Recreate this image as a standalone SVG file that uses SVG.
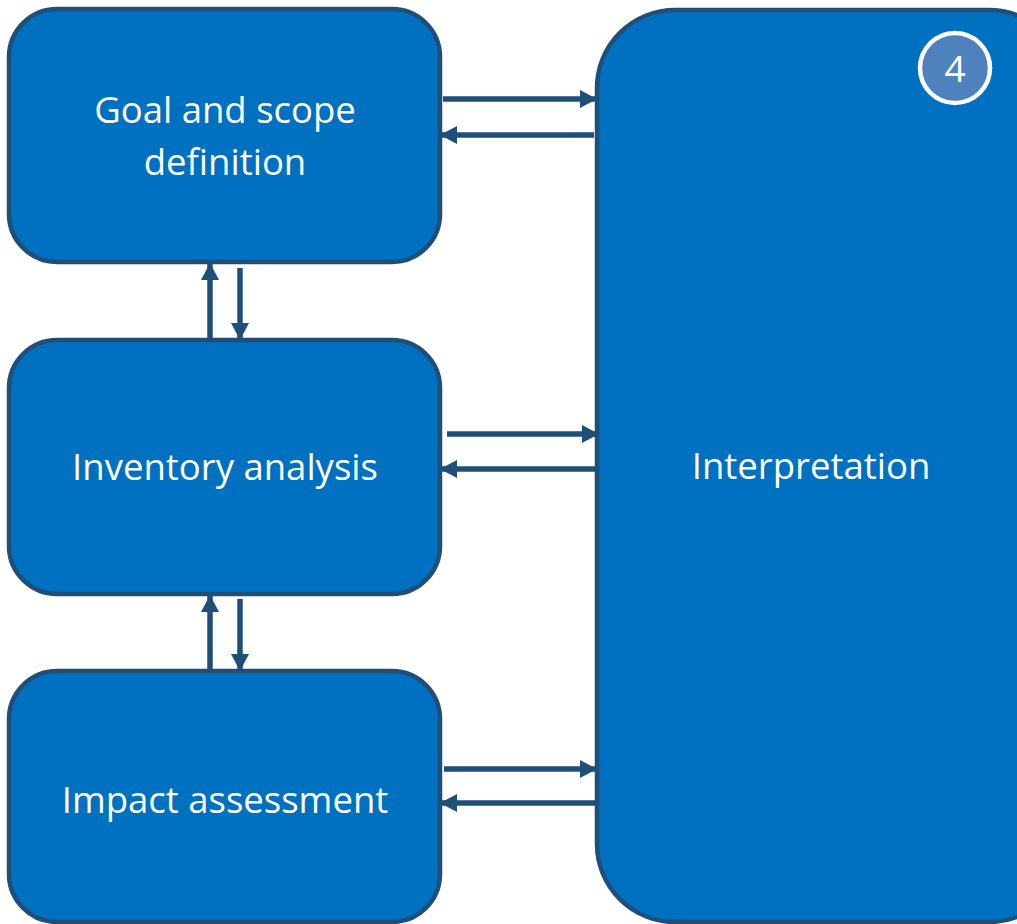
<svg xmlns="http://www.w3.org/2000/svg" width="1017" height="924" viewBox="0 0 1017 924">
<style>
.box{fill:#0070C0;stroke:#1F4E79;stroke-width:4.5}
.lbl{font-family:"Open Sans","Noto Sans",sans-serif;font-size:36.5px;fill:#ffffff;text-anchor:middle}
.con{stroke:#1F4E79;stroke-width:5.5;fill:none}
</style>
<defs>
<marker id="ah" markerUnits="userSpaceOnUse" markerWidth="20" markerHeight="20" refX="17" refY="9" orient="auto">
<path d="M0,0 L17,9 L0,18 Z" fill="#1F4E79"/>
</marker>
</defs>
<rect width="1017" height="924" fill="#ffffff"/>
<g id="interpretation">
<rect class="box" x="597" y="10" width="470" height="912" rx="78" ry="78"/>
<text class="lbl" x="811" y="479">Interpretation</text>
<circle cx="955" cy="68" r="35" fill="#4F81BD" stroke="#ffffff" stroke-width="4.5"/>
<text x="955" y="82" font-family="'Open Sans','Noto Sans',sans-serif" font-size="37" fill="#ffffff" text-anchor="middle">4</text>
</g>
<g id="goal">
<rect class="box" x="9" y="9" width="431" height="253" rx="48" ry="48"/>
<text class="lbl" x="225" y="123">Goal and scope</text>
<text class="lbl" x="225" y="175">definition</text>
</g>
<g id="inventory">
<rect class="box" x="9" y="340" width="431" height="254" rx="48" ry="48"/>
<text class="lbl" x="225" y="480">Inventory analysis</text>
</g>
<g id="impact">
<rect class="box" x="9" y="671" width="431" height="251" rx="48" ry="48"/>
<text class="lbl" x="225" y="813">Impact assessment</text>
</g>
<g id="connectors">
<line class="con" x1="443" y1="99" x2="597" y2="99" marker-end="url(#ah)"/>
<line class="con" x1="594" y1="135" x2="440" y2="135" marker-end="url(#ah)"/>
<line class="con" x1="447" y1="434" x2="599" y2="434" marker-end="url(#ah)"/>
<line class="con" x1="597" y1="469" x2="440" y2="469" marker-end="url(#ah)"/>
<line class="con" x1="444" y1="769" x2="597" y2="769" marker-end="url(#ah)"/>
<line class="con" x1="597" y1="803" x2="440" y2="803" marker-end="url(#ah)"/>
<line class="con" x1="210" y1="340" x2="210" y2="263" marker-end="url(#ah)"/>
<line class="con" x1="240" y1="268" x2="240" y2="340" marker-end="url(#ah)"/>
<line class="con" x1="210" y1="671" x2="210" y2="595" marker-end="url(#ah)"/>
<line class="con" x1="240" y1="599" x2="240" y2="671" marker-end="url(#ah)"/>
</g>
</svg>
